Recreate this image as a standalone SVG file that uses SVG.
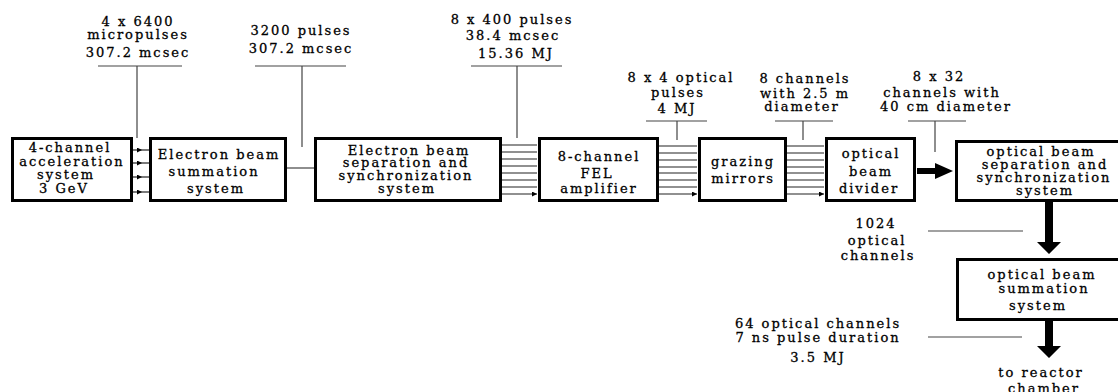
<svg xmlns="http://www.w3.org/2000/svg" width="1118" height="392" viewBox="0 0 1118 392">
<style>
.t{font-family:"DejaVu Serif","Liberation Serif",serif;font-size:13px;letter-spacing:2px;text-anchor:middle;fill:#000;stroke:#000;stroke-width:0.3px;}
.box{fill:#fff;stroke:#000;stroke-width:3;}
.lbl{stroke:#444;stroke-width:1.2;fill:none;}
.ar{stroke:#222;stroke-width:1.2;fill:none;marker-end:url(#ah);}
.arm{stroke:#222;stroke-width:1.2;fill:none;marker-mid:url(#ah);}
.thick{fill:#000;}
</style>
<defs>
<marker id="ah" markerUnits="userSpaceOnUse" markerWidth="6" markerHeight="6" refX="5" refY="2.5" orient="auto">
<path d="M0,0 L5,2.5 L0,5 z" fill="#000"/>
</marker>
</defs>
<rect width="1118" height="392" fill="#fff"/>

<g id="connectors">
<path class="lbl" d="M98,66 H182 M137,66 V138"/>
<path class="lbl" d="M255,66 H346 M302,66 V147"/>
<path class="lbl" d="M471,66 H562 M517,66 V138"/>
<path class="lbl" d="M646,121 H707 M677,121 V140"/>
<path class="lbl" d="M775,121 H833 M803,121 V140"/>
<path class="lbl" d="M908,121 H966 M935,121 V152"/>
<path class="lbl" d="M928,231 H1023"/>
<path class="lbl" d="M928,337 H1022"/>
<path class="lbl" d="M287,168 H314"/>
<path class="arm" d="M133,150 L142,150 L149,150"/>
<path class="arm" d="M133,163 L142,163 L149,163"/>
<path class="arm" d="M133,177 L142,177 L149,177"/>
<path class="arm" d="M133,192 L142,192 L149,192"/>
<path class="ar" d="M502,145 H537 M502,152 H537 M502,159 H537 M502,166 H537 M502,173 H537 M502,180 H537 M502,187 H537 M502,194 H537"/>
<path class="ar" d="M659,146 H697 M659,153 H697 M659,160 H697 M659,167 H697 M659,173 H697 M659,180 H697 M659,187 H697 M659,194 H697"/>
<path class="ar" d="M787,146 H824 M787,153 H824 M787,160 H824 M787,167 H824 M787,173 H824 M787,180 H824 M787,187 H824 M787,194 H824"/>
<polygon class="thick" points="917,168 935,168 935,163 953,171 935,179 935,174 917,174"/>
<polygon class="thick" points="1045,202 1053,202 1053,242 1061,242 1049,254 1037,242 1045,242"/>
<polygon class="thick" points="1045,321 1053,321 1053,346 1061,346 1049,358 1037,346 1045,346"/>
</g>

<g id="labels">
<text class="t" x="138" y="26">4 x 6400</text>
<text class="t" x="138" y="39">micropulses</text>
<text class="t" x="138" y="57">307.2 mcsec</text>
<text class="t" x="301" y="35">3200 pulses</text>
<text class="t" x="301" y="53">307.2 mcsec</text>
<text class="t" x="512" y="24">8 x 400 pulses</text>
<text class="t" x="513" y="40">38.4 mcsec</text>
<text class="t" x="516" y="58">15.36 MJ</text>
<text class="t" x="681" y="82">8 x 4 optical</text>
<text class="t" x="678" y="97">pulses</text>
<text class="t" x="677" y="113">4 MJ</text>
<text class="t" x="805" y="83">8 channels</text>
<text class="t" x="805" y="98">with 2.5 m</text>
<text class="t" x="802" y="111">diameter</text>
<text class="t" x="939" y="81">8 x 32</text>
<text class="t" x="942" y="97">channels with</text>
<text class="t" x="946" y="111">40 cm diameter</text>
<text class="t" x="876" y="228">1024</text>
<text class="t" x="877" y="245">optical</text>
<text class="t" x="878" y="260">channels</text>
<text class="t" x="818" y="328">64 optical channels</text>
<text class="t" x="818" y="342">7 ns pulse duration</text>
<text class="t" x="818" y="362">3.5 MJ</text>
<text class="t" x="1041" y="377">to reactor</text>
<text class="t" x="1044" y="393">chamber</text>
</g>

<g id="n1">
<rect class="box" x="12.5" y="138.5" width="119" height="62"/>
<text class="t" x="70" y="152">4-channel</text>
<text class="t" x="72" y="166">acceleration</text>
<text class="t" x="66" y="179">system</text>
<text class="t" x="64" y="193">3 GeV</text>
</g>
<g id="n2">
<rect class="box" x="150.5" y="138.5" width="135" height="62"/>
<text class="t" x="219" y="159">Electron beam</text>
<text class="t" x="214" y="176">summation</text>
<text class="t" x="216" y="193">system</text>
</g>
<g id="n3">
<rect class="box" x="315.5" y="138.5" width="185" height="62"/>
<text class="t" x="409" y="155">Electron beam</text>
<text class="t" x="406" y="167">separation and</text>
<text class="t" x="406" y="180">synchronization</text>
<text class="t" x="407" y="193">system</text>
</g>
<g id="n4">
<rect class="box" x="539.5" y="138.5" width="118" height="62"/>
<text class="t" x="599" y="161">8-channel</text>
<text class="t" x="597" y="178">FEL</text>
<text class="t" x="599" y="193">amplifier</text>
</g>
<g id="n5">
<rect class="box" x="699.5" y="138.5" width="86" height="62"/>
<text class="t" x="743" y="166">grazing</text>
<text class="t" x="743" y="183">mirrors</text>
</g>
<g id="n6">
<rect class="box" x="826.5" y="138.5" width="88" height="62"/>
<text class="t" x="871" y="158">optical</text>
<text class="t" x="871" y="176">beam</text>
<text class="t" x="869" y="193">divider</text>
</g>
<g id="n7">
<rect class="box" x="956.5" y="141.5" width="170" height="59"/>
<text class="t" x="1041" y="156">optical beam</text>
<text class="t" x="1045" y="169">separation and</text>
<text class="t" x="1044" y="182">synchronization</text>
<text class="t" x="1045" y="195">system</text>
</g>
<g id="n8">
<rect class="box" x="957.5" y="259.5" width="170" height="60"/>
<text class="t" x="1042" y="279">optical beam</text>
<text class="t" x="1044" y="293">summation</text>
<text class="t" x="1038" y="310">system</text>
</g>
</svg>
